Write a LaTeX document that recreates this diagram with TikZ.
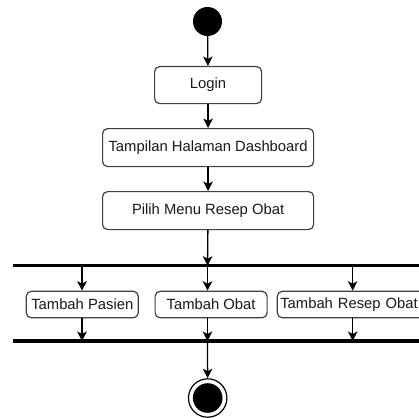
\documentclass[tikz,border=0pt]{standalone}
\usepackage{fontspec}
\setmainfont{Liberation Sans}
\usetikzlibrary{arrows.meta}
\begin{document}
\begin{tikzpicture}[x=1pt,y=-1pt,
  act/.style={draw=black!75,line width=1.2pt,rounded corners=5pt,fill=white,
    font=\fontsize{14.8}{16}\selectfont,text=black!90,inner sep=0pt,anchor=north west},
  flow/.style={line width=1.3pt,-{Stealth[length=9.5pt,width=9.5pt,inset=2.5pt]}},
  bar/.style={line width=3.2pt}]
\useasboundingbox (0,0) rectangle (419,417);
\clip (0,0) rectangle (419,417);
\node[circle,fill=black,minimum size=29pt,inner sep=0pt] (start) at (207.5,21.5) {};
\node[act,minimum width=107pt,minimum height=37pt] (login) at (154,66) {Login};
\node[act,minimum width=211pt,minimum height=38pt] (dash) at (102,128) {Tampilan Halaman Dashboard};
\node[act,minimum width=211pt,minimum height=38pt] (menu) at (102,191) {Pilih Menu Resep Obat};
\coordinate (forkL) at (12.7,265.7);
\coordinate (forkR) at (425,265.7);
\coordinate (joinL) at (12.7,341);
\coordinate (joinR) at (425,341);
\draw[bar] (forkL) -- (forkR);
\draw[bar] (joinL) -- (joinR);
\node[act,minimum width=112pt,minimum height=26.5pt] (pasien) at (25.7,290.7) {Tambah Pasien};
\node[act,minimum width=112pt,minimum height=26.5pt] (obat) at (154.5,290.7) {Tambah Obat};
\node[act,minimum height=26.5pt,text width=180pt,align=left] (resep) at (276.7,290.7) {\hspace*{3pt}Tambah Resep Obat};
\coordinate (f1) at (82,265.7);
\coordinate (f2) at (207.5,265.7);
\coordinate (f3) at (352.7,265.7);
\coordinate (j1) at (82,341);
\coordinate (j2) at (207.5,341);
\coordinate (j3) at (352.7,341);
\node[circle,draw=black,line width=1.2pt,minimum size=38.4pt,inner sep=0pt] (end) at (207.7,398) {};
\node[circle,fill=black,minimum size=29.6pt,inner sep=0pt] at (end.center) {};
\draw[flow] (start) -- (login);
\draw[flow] (login) -- (dash);
\draw[flow] (dash) -- (menu);
\draw[flow] (menu) -- (f2);
\draw[flow] (f1) -- (f1 |- pasien.north);
\draw[flow] (f2) -- (f2 |- obat.north);
\draw[flow] (f3) -- (f3 |- resep.north);
\draw[flow] (f1 |- pasien.south) -- (j1);
\draw[flow] (f2 |- obat.south) -- (j2);
\draw[flow] (f3 |- resep.south) -- (j3);
\draw[flow] (j2) -- (end);
\end{tikzpicture}
\end{document}
